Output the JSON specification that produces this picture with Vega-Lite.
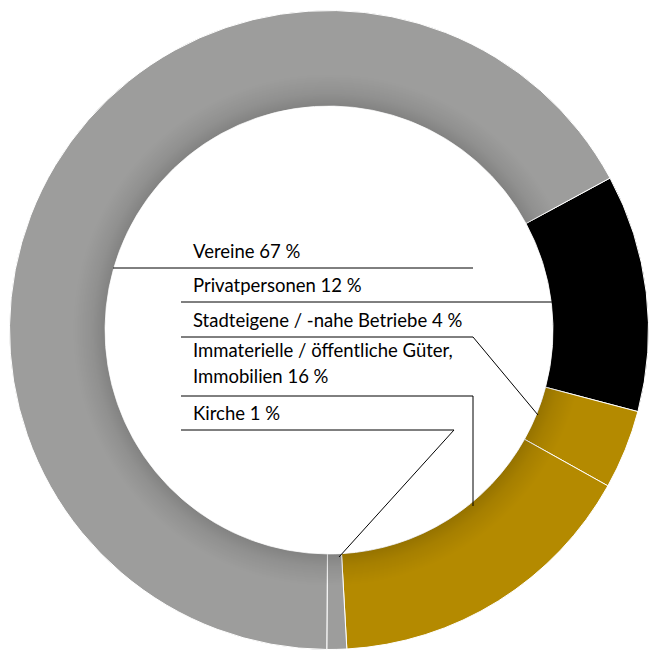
{
  "$schema": "https://vega.github.io/schema/vega-lite/v6.json",
  "width": 640,
  "height": 640,
  "padding": {"left": 9, "top": 10, "right": 0, "bottom": 0},
  "autosize": {"type": "none"},
  "background": "white",
  "view": {"stroke": null},
  "config": {"font": "Lato"},
  "datasets": {
    "slices": [
      {"category": "Privatpersonen", "value": 12, "order": 1},
      {"category": "Stadteigene / -nahe Betriebe", "value": 4, "order": 2},
      {"category": "Immaterielle / öffentliche Güter, Immobilien", "value": 16, "order": 3},
      {"category": "Kirche", "value": 1, "order": 4},
      {"category": "Vereine", "value": 67, "order": 5}
    ],
    "leaders": [
      {"id": "Vereine", "seq": 1, "x": -216, "y": 62},
      {"id": "Vereine", "seq": 2, "x": 144, "y": 62},
      {"id": "Privat", "seq": 1, "x": -148, "y": 28},
      {"id": "Privat", "seq": 2, "x": 224, "y": 28},
      {"id": "Stadt", "seq": 1, "x": -148, "y": -7},
      {"id": "Stadt", "seq": 2, "x": 144, "y": -7},
      {"id": "Stadt", "seq": 3, "x": 209, "y": -85},
      {"id": "Imm", "seq": 1, "x": -148, "y": -66},
      {"id": "Imm", "seq": 2, "x": 144, "y": -66},
      {"id": "Imm", "seq": 3, "x": 144, "y": -176},
      {"id": "Kirche", "seq": 1, "x": -148, "y": -100},
      {"id": "Kirche", "seq": 2, "x": 125, "y": -100},
      {"id": "Kirche", "seq": 3, "x": 10, "y": -227}
    ],
    "labels": [
      {"label": "Vereine 67 %", "x": -136, "y": 72.5},
      {"label": "Privatpersonen 12 %", "x": -136, "y": 38},
      {"label": "Stadteigene / -nahe Betriebe 4 %", "x": -136, "y": 3.5},
      {"label": "Immaterielle / öffentliche Güter,\nImmobilien 16 %", "x": -136, "y": -27},
      {"label": "Kirche 1 %", "x": -136, "y": -90}
    ]
  },
  "layer": [
    {
      "data": {"name": "slices"},
      "mark": {"type": "arc", "outerRadius": 319.5, "innerRadius": 224, "stroke": "white", "strokeWidth": 1},
      "encoding": {
        "theta": {"field": "value", "type": "quantitative", "stack": true, "scale": {"range": [1.0751, 7.3583]}},
        "order": {"field": "order", "type": "quantitative"},
        "color": {
          "field": "category", "type": "nominal", "legend": null,
          "scale": {
            "domain": ["Privatpersonen", "Stadteigene / -nahe Betriebe", "Immaterielle / öffentliche Güter, Immobilien", "Kirche", "Vereine"],
            "range": ["#000000", "#b48a00", "#b48a00", "#9d9d9c", "#9d9d9c"]
          }
        }
      }
    },
    {
      "data": {"name": "slices"},
      "transform": [{"aggregate": [{"op": "sum", "field": "value", "as": "total"}]}],
      "mark": {
        "type": "arc", "outerRadius": 319.5, "innerRadius": 224,
        "fill": {
          "gradient": "radial", "x1": 0.5, "y1": 0.5, "r1": 0, "x2": 0.5, "y2": 0.5, "r2": 0.5,
          "stops": [
            {"offset": 0.70, "color": "rgba(0,0,0,0.17)"},
            {"offset": 0.74, "color": "rgba(0,0,0,0.08)"},
            {"offset": 0.80, "color": "rgba(0,0,0,0)"},
            {"offset": 1, "color": "rgba(0,0,0,0)"}
          ]
        }
      },
      "encoding": {
        "theta": {"field": "total", "type": "quantitative", "stack": false, "scale": {"domain": [0, 100], "range": [1.0751, 7.3583]}}
      }
    },
    {
      "data": {"name": "leaders"},
      "mark": {"type": "line", "color": "black", "strokeWidth": 1},
      "encoding": {
        "x": {"field": "x", "type": "quantitative", "scale": {"domain": [-320, 320]}, "axis": null},
        "y": {"field": "y", "type": "quantitative", "scale": {"domain": [-320, 320]}, "axis": null},
        "detail": {"field": "id"},
        "order": {"field": "seq", "type": "quantitative"}
      }
    },
    {
      "data": {"name": "labels"},
      "mark": {"type": "text", "align": "left", "baseline": "alphabetic", "fontSize": 18.5, "lineBreak": "\n", "lineHeight": 26, "color": "black"},
      "encoding": {
        "x": {"field": "x", "type": "quantitative", "scale": {"domain": [-320, 320]}, "axis": null},
        "y": {"field": "y", "type": "quantitative", "scale": {"domain": [-320, 320]}, "axis": null},
        "text": {"field": "label"}
      }
    }
  ],
  "resolve": {"scale": {"theta": "independent"}}
}
